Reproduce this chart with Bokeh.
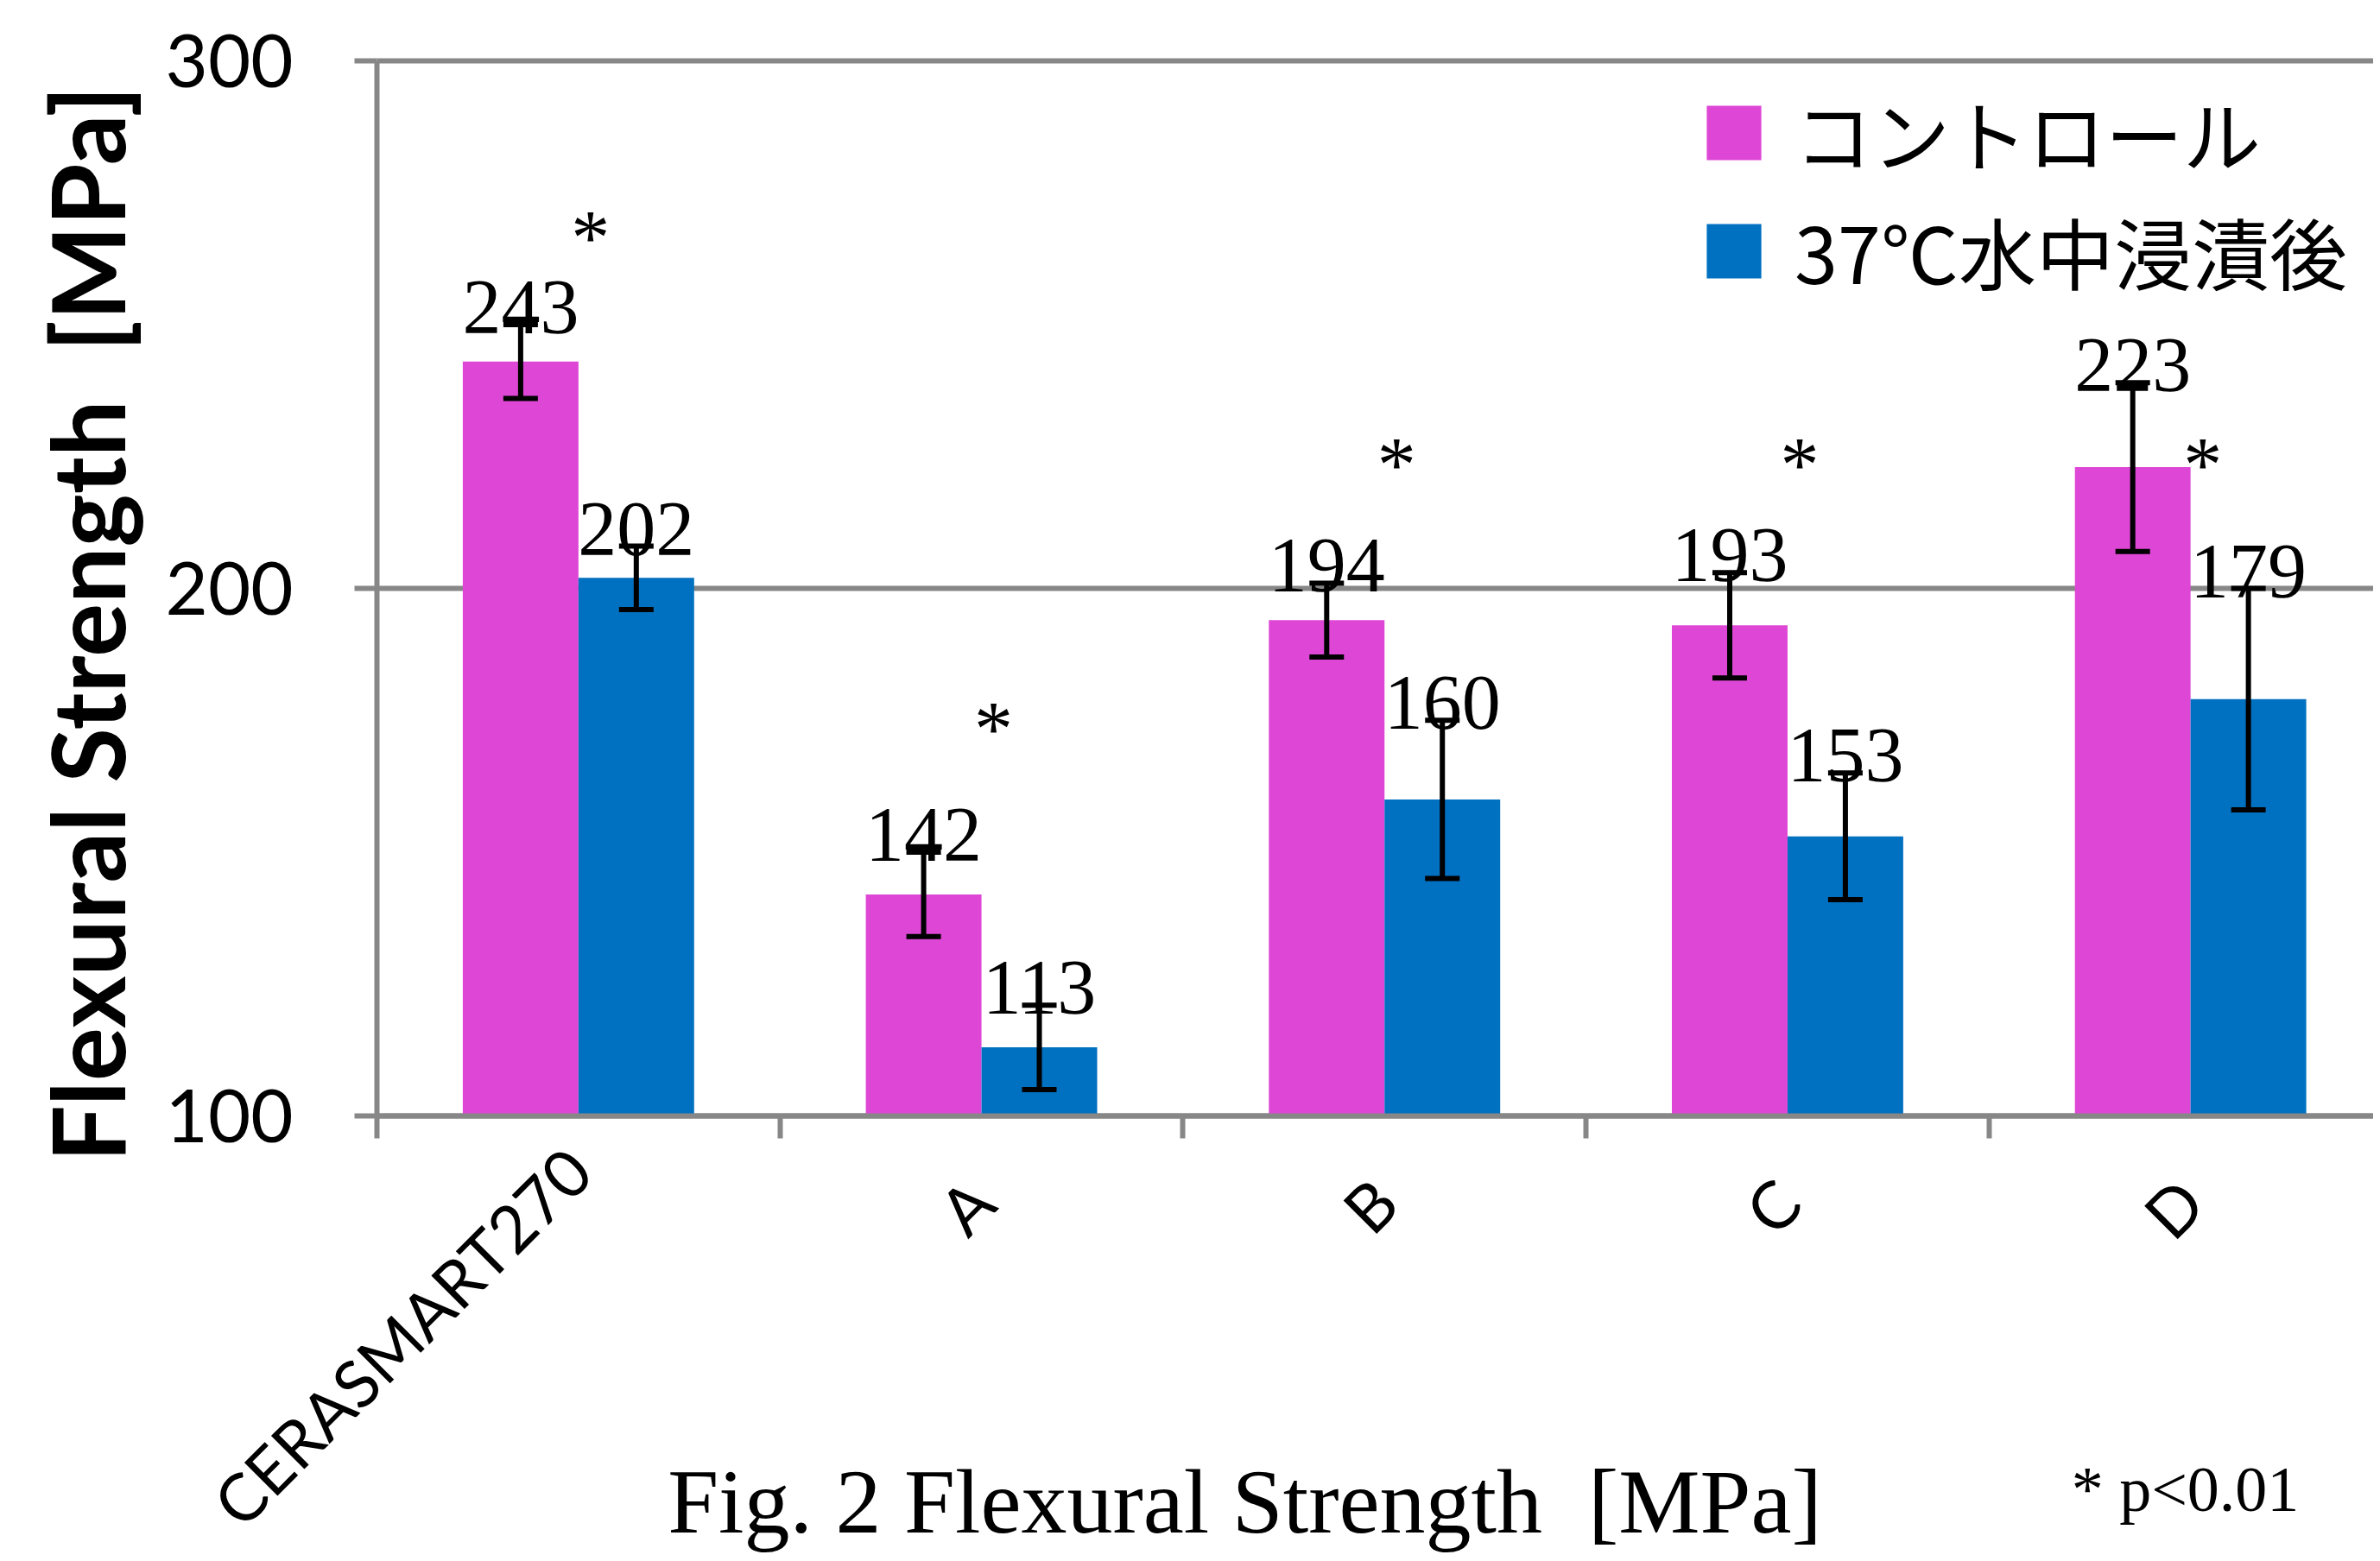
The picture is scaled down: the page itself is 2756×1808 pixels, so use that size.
import numpy as np
from bokeh.plotting import figure
from bokeh.models import (ColumnDataSource, FixedTicker, Range1d, Legend, LegendItem,
                          Whisker, TeeHead, Grid)
from bokeh.core.properties import value
from bokeh.embed import file_html
from bokeh.resources import INLINE

# ---------------- data ----------------
categories = ["CERASMART270", "A", "B", "C", "D"]
series_names = ["コントロール", "37℃水中浸漬後"]
control = [243, 142, 194, 193, 223]
control_err = [7, 8, 7, 10, 16]
immersed = [202, 113, 160, 153, 179]
immersed_err = [6, 8, 15, 12, 21]
sig_marks = ["*", "*", "*", "*", "*"]
sig_y = [269, 176, 226, 226, 226]
y_ticks = [100, 200, 300]
y_title = "Flexural Strength \u00a0[MPa]"
caption = "Fig. 2 Flexural Strength \u00a0[MPa]"
note = "* p<0.01"

# ---------------- style / layout (pixels) ----------------
PINK = "#DE47D6"
BLUE = "#0070C0"
GRAY = "#878787"
SERIF = "Liberation Serif"
SANS = "Lato"
CJK = "Noto Sans CJK JP"

PAGE_W, PAGE_H = 2748, 1800
FRAME_LEFT = 40           # frame starts here (left border for the axis ticks)
AXIS_X = 436              # pixel x of the value axis
AXIS_TOP, AXIS_BOTTOM = 70, 1292   # pixel y of 300 and 100
CAT_PX = 466.7            # pixels per category
px_per_unit = (AXIS_BOTTOM - AXIS_TOP) / (y_ticks[-1] - y_ticks[0])
x_lo = -(AXIS_X - FRAME_LEFT) / CAT_PX
x_hi = (PAGE_W - AXIS_X) / CAT_PX
y_hi = y_ticks[-1] + AXIS_TOP / px_per_unit
y_lo = y_ticks[0] - (PAGE_H - AXIS_BOTTOM) / px_per_unit

n = len(categories)
centers = np.arange(n) + 0.5
bw = 0.287
x_ctrl = centers - bw / 2
x_imm = centers + bw / 2

ctrl_src = ColumnDataSource(dict(
    x=x_ctrl, top=control,
    upper=np.array(control) + np.array(control_err),
    lower=np.array(control) - np.array(control_err),
    label=[str(v) for v in control]))
imm_src = ColumnDataSource(dict(
    x=x_imm, top=immersed,
    upper=np.array(immersed) + np.array(immersed_err),
    lower=np.array(immersed) - np.array(immersed_err),
    label=[str(v) for v in immersed]))
sig_src = ColumnDataSource(dict(x=centers + 0.03, y=sig_y, t=sig_marks))
# long names are lifted a little so that they stay inside the page
cat_dy = [50 if len(c) > 4 else 86 for c in categories]
cat_src = ColumnDataSource(dict(x=centers, y=[y_ticks[0]] * n, name=categories, dy=cat_dy))
ytick_src = ColumnDataSource(dict(x=[0] * len(y_ticks), y=y_ticks,
                                  t=[str(t) for t in y_ticks]))

p = figure(frame_width=PAGE_W - FRAME_LEFT, frame_height=PAGE_H,
           x_range=Range1d(x_lo, x_hi), y_range=Range1d(y_lo, y_hi),
           output_backend="svg", toolbar_location=None,
           min_border_left=FRAME_LEFT, min_border_right=0,
           min_border_top=0, min_border_bottom=0)
p.outline_line_color = None
p.background_fill_color = "white"
p.border_fill_color = "white"

# grid lines (only across the plot area)
p.xgrid.grid_line_color = None
if "cross_bounds" in Grid.properties():
    p.ygrid.ticker = FixedTicker(ticks=y_ticks)
    p.ygrid.cross_bounds = (0, x_hi)
    p.ygrid.grid_line_color = GRAY
    p.ygrid.grid_line_width = 6
else:
    p.ygrid.grid_line_color = None
    p.segment(x0=[0] * len(y_ticks), x1=[x_hi] * len(y_ticks), y0=y_ticks, y1=y_ticks,
              line_color=GRAY, line_width=6)

# bars
r_ctrl = p.vbar(x="x", top="top", bottom=y_ticks[0], width=bw, source=ctrl_src,
                fill_color=PINK, line_color=None)
r_imm = p.vbar(x="x", top="top", bottom=y_ticks[0], width=bw, source=imm_src,
               fill_color=BLUE, line_color=None)

# error bars
for src in (ctrl_src, imm_src):
    w = Whisker(base="x", upper="upper", lower="lower", source=src, dimension="height",
                line_color="black", line_width=6, level="overlay",
                upper_head=TeeHead(size=40, line_width=6, line_color="black"),
                lower_head=TeeHead(size=40, line_width=6, line_color="black"))
    p.add_layout(w)

# value labels
for src in (ctrl_src, imm_src):
    p.text(x="x", y="upper", text="label", source=src,
           text_font=value(SERIF), text_font_size="90px", text_color="black",
           text_align="center", text_baseline="middle", y_offset=-20)

# significance marks
p.text(x="x", y="y", text="t", source=sig_src,
       text_font=value(SERIF), text_font_size="90px", text_color="black",
       text_align="center", text_baseline="middle", y_offset=16)

# value axis (line + ticks) at x = 0
yax = p.yaxis[0]
yax.fixed_location = 0
yax.bounds = (y_ticks[0], y_ticks[-1])
yax.ticker = FixedTicker(ticks=y_ticks)
yax.axis_line_color = GRAY
yax.axis_line_width = 6
yax.major_tick_line_color = GRAY
yax.major_tick_line_width = 6
yax.major_tick_out = 26
yax.major_tick_in = 0
yax.minor_tick_line_color = None
yax.major_label_standoff = 0
yax.major_label_text_font_size = "0px"
yax.major_label_overrides = {t: "" for t in y_ticks}

# value-axis tick labels and title
p.text(x="x", y="y", text="t", source=ytick_src, x_offset=-97,
       text_align="right", text_baseline="middle",
       text_font=value(SANS), text_font_size="85px", text_color="black")
p.text(x=[0], y=[(y_ticks[0] + y_ticks[-1]) / 2], text=[y_title], angle=np.pi / 2,
       x_offset=-336, y_offset=41, text_align="center", text_baseline="middle",
       text_font=value(SANS), text_font_style="bold", text_font_size="116px",
       text_color="black")

# category axis at y = 100: ticks between categories
xax = p.xaxis[0]
xax.fixed_location = y_ticks[0]
xax.bounds = (0, x_hi)
xax.ticker = FixedTicker(ticks=list(centers), minor_ticks=list(range(n + 1)))
xax.axis_line_color = GRAY
xax.axis_line_width = 6
xax.major_tick_line_color = None
xax.major_tick_out = 0
xax.major_tick_in = 0
xax.minor_tick_line_color = GRAY
xax.minor_tick_line_width = 6
xax.minor_tick_out = 26
xax.minor_tick_in = 0
xax.major_label_standoff = 0
xax.major_label_text_font_size = "0px"
xax.major_label_overrides = {float(c): "" for c in centers}

# category labels (rotated)
p.text(x="x", y="y", text="name", source=cat_src, angle=np.pi / 4, y_offset="dy",
       text_align="right", text_baseline="middle",
       text_font=value(SANS), text_font_size="76px", text_color="black")

# caption and note
p.text(x=[(1441 - AXIS_X) / CAT_PX], y=[y_ticks[0]], y_offset=1739 - AXIS_BOTTOM,
       text=[caption], text_align="center", text_baseline="middle",
       text_font=value(SERIF), text_font_size="106px", text_color="black")
p.text(x=[(2530 - AXIS_X) / CAT_PX], y=[y_ticks[0]], y_offset=1724 - AXIS_BOTTOM,
       text=[note], text_align="center", text_baseline="middle",
       text_font=value(SERIF), text_font_size="74px", text_color="black")

# legend
legend = Legend(items=[LegendItem(label=series_names[0], renderers=[r_ctrl]),
                       LegendItem(label=series_names[1], renderers=[r_imm])],
                location=(1532 + AXIS_X - FRAME_LEFT, 937 + PAGE_H - AXIS_BOTTOM),
                orientation="vertical",
                border_line_color=None, background_fill_alpha=0,
                padding=0, margin=0, spacing=7, label_standoff=31,
                glyph_width=79, glyph_height=79,
                label_text_font=CJK, label_text_font_size="90px",
                label_text_color="black")
p.add_layout(legend)

open("out.html", "w").write(file_html(p, INLINE))
